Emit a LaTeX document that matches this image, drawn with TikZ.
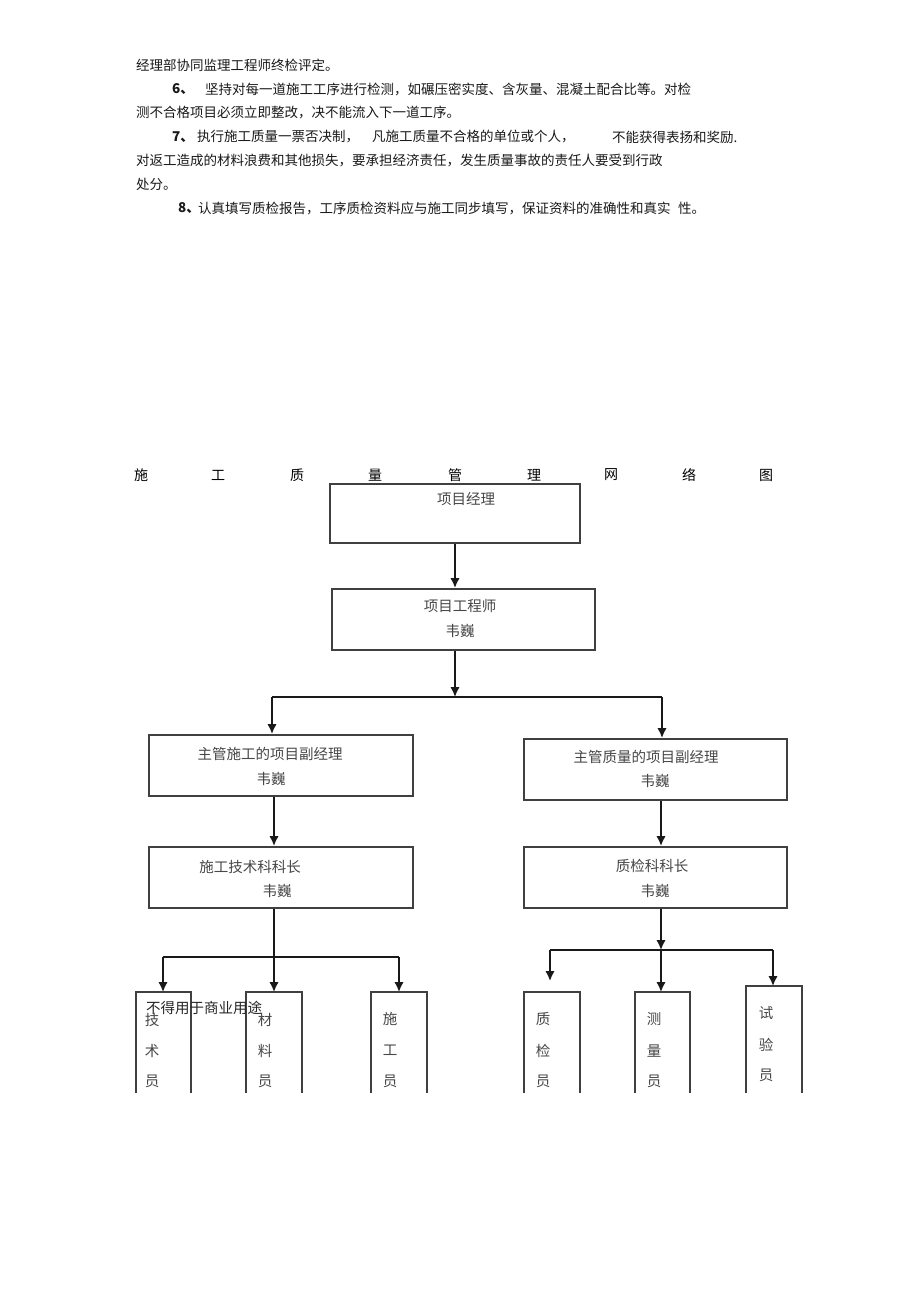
\documentclass[tikz,border=0pt]{standalone}
\usepackage{fontspec}
\setmainfont{Noto Sans CJK SC}
\usetikzlibrary{arrows.meta}
\tikzset{
  para/.style={anchor=west,inner sep=0pt,font=\fontsize{13.5}{14}\selectfont,text=black!90},
  ttl/.style={inner sep=0pt,font=\fontsize{14}{14}\selectfont},
  box/.style={draw=black!75,line width=1.9pt,inner sep=0pt},
  btxt/.style={inner sep=0pt,font=\fontsize{14.5}{15}\selectfont,text=black!72},
  arr/.style={draw=black!90,line width=1.9pt,-{Latex[length=10pt,width=9.5pt]}},
  ln/.style={draw=black!90,line width=1.9pt},
}
\begin{document}
\begin{tikzpicture}[x=1pt,y=-1pt]
\useasboundingbox[fill=white] (0,0) rectangle (920,1303);
% paragraph
\node[para] (p1) at (136,65) {经理部协同监理工程师终检评定。};
\node[para] (p2a) at (172,89) {\textbf{6、}};
\node[para] (p2b) at (205,89) {坚持对每一道施工工序进行检测，如碾压密实度、含灰量、混凝土配合比等。对检};
\node[para] (p3) at (136,113) {测不合格项目必须立即整改，决不能流入下一道工序。};
\node[para] (p4a) at (172,137) {\textbf{7、}};
\node[para] (p4b) at (197,137) {执行施工质量一票否决制，};
\node[para] (p4c) at (372,137) {凡施工质量不合格的单位或个人，};
\node[para] (p4d) at (612,137) {不能获得表扬和奖励.};
\node[para] (p5) at (136,160) {对返工造成的材料浪费和其他损失，要承担经济责任，发生质量事故的责任人要受到行政};
\node[para] (p6) at (136,184) {处分。};
\node[para] (p7a) at (178,208) {\textbf{8、}};
\node[para] (p7b) at (198,208) {认真填写质检报告，工序质检资料应与施工同步填写，保证资料的准确性和真实};
\node[para] (p7c) at (678,208) {性。};
% title
\foreach \c/\x [count=\i] in {施/141,工/218,质/297,量/375,管/455,理/534,网/611,络/689,图/766}
  \node[ttl] (t\i) at (\x,475) {\c};
% boxes
\node[box,minimum width=250pt,minimum height=59pt] (b1) at (455,513.5) {};
\node[btxt] (b1t) at (466,499) {项目经理};
\node[box,minimum width=263pt,minimum height=61pt] (b2) at (463.5,619.5) {};
\node[btxt] (b2t) at (460,606) {项目工程师};
\node[btxt] (b2n) at (460,631) {韦巍};
\node[box,minimum width=264pt,minimum height=61pt] (b3) at (281,765.5) {};
\node[btxt] (b3t) at (270,754) {主管施工的项目副经理};
\node[btxt] (b3n) at (271,779) {韦巍};
\node[box,minimum width=263pt,minimum height=61pt] (b4) at (655.5,769.5) {};
\node[btxt] (b4t) at (646,757) {主管质量的项目副经理};
\node[btxt] (b4n) at (655,781) {韦巍};
\node[box,minimum width=264pt,minimum height=61pt] (b5) at (281,877.5) {};
\node[btxt] (b5t) at (250,867) {施工技术科科长};
\node[btxt] (b5n) at (277,891) {韦巍};
\node[box,minimum width=263pt,minimum height=61pt] (b6) at (655.5,877.5) {};
\node[btxt] (b6t) at (652,866) {质检科科长};
\node[btxt] (b6n) at (655,891) {韦巍};
% bottom open boxes
\foreach \n/\xl/\xr/\yt/\ya/\yb/\yc/\tx/\ca/\cb/\cc in {
  s1/136/191/992/1020/1051/1081/152/技/术/员,
  s2/246/302/992/1020/1051/1081/265/材/料/员,
  s3/371/427/992/1019/1050/1081/390/施/工/员,
  s4/524/580/992/1019/1051/1081/543/质/检/员,
  s5/635/690/992/1019/1051/1081/654/测/量/员,
  s6/746/802/986/1013/1045/1075/766/试/验/员}{
  \coordinate (\n nw) at (\xl,\yt);
  \coordinate (\n ne) at (\xr,\yt);
  \coordinate (\n n) at ({(\xl+\xr)/2},\yt);
  \draw[draw=black!75,line width=1.9pt] (\xl,1093) -- (\n nw) -- (\n ne) -- (\xr,1093);
  \node[btxt] (\n a) at (\tx,\ya) {\ca};
  \node[btxt] (\n b) at (\tx,\yb) {\cb};
  \node[btxt] (\n c) at (\tx,\yc) {\cc};
}
\node[btxt,anchor=west,text=black!85] (wm) at (146,1008) {不得用于商业用途};
% connectors
\draw[arr] (b1.south) -- (b2.north -| b1.south);
\coordinate (j1) at (455,697);
\coordinate (j1l) at (272,697);
\coordinate (j1r) at (662,697);
\draw[arr] (b2.south -| j1) -- (j1);
\draw[ln] (j1l) -- (j1r);
\draw[arr] (j1l) -- (b3.north -| j1l);
\draw[arr] (j1r) -- (b4.north -| j1r);
\draw[arr] (b3.south -| 274,0) -- (b5.north -| 274,0);
\draw[arr] (b4.south -| 661,0) -- (b6.north -| 661,0);
% left group
\coordinate (j2) at (274,957);
\coordinate (j2l) at (163,957);
\coordinate (j2r) at (399,957);
\draw[ln] (b5.south -| j2) -- (j2);
\draw[ln] (j2l) -- (j2r);
\draw[arr] (j2l) -- (s1n -| j2l);
\draw[arr] (j2) -- (s2n -| j2);
\draw[arr] (j2r) -- (s3n -| j2r);
% right group
\coordinate (j3) at (661,950);
\coordinate (j3l) at (550,950);
\coordinate (j3r) at (773,950);
\coordinate (s4tip) at (550,981);
\draw[arr] (b6.south -| j3) -- (j3);
\draw[ln] (j3l) -- (j3r);
\draw[arr] (j3l) -- (s4tip);
\draw[arr] (j3) -- (s5n -| j3);
\draw[arr] (j3r) -- (s6n -| j3r);
\end{tikzpicture}
\end{document}
